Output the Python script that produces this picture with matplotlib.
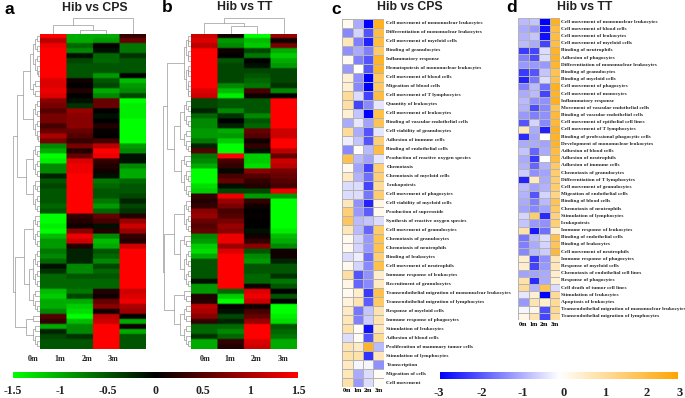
#!/usr/bin/env python
"""Heatmaps of Hib vs CPS / TT: expression clusters (a, b) and leukocyte functions (c, d)."""
import numpy as np
import matplotlib
matplotlib.use("Agg")
import matplotlib.pyplot as plt  # noqa: E402
from matplotlib.colors import LinearSegmentedColormap  # noqa: E402

W, H = 685, 398
SANS = "Liberation Sans"
SERIF = "Liberation Serif"

MONTHS = ["0m", "1m", "2m", "3m"]
EXPR_TICKS = [-1.5, -1, -0.5, 0, 0.5, 1, 1.5]
EXPR_TICK_LABELS = ["-1.5", "-1", "-0.5", "0", "0.5", "1", "1.5"]
Z_TICKS = [-3, -2, -1, 0, 1, 2, 3]

EXPR_A = [
    [1.5, -1.0, -1.0, 0.3], [1.1, -1.0, -0.9, 0.6], [1.4, -0.6, 0.05, -0.7], [1.5, -0.8, -0.1, -0.7],
    [1.5, -0.1, -0.6, -0.3], [1.5, -0.4, -0.6, -0.5], [1.5, -0.5, -0.5, -0.5], [1.5, -0.5, -0.5, -0.5],
    [1.5, -0.5, -0.9, 0.0], [1.3, 0.1, -0.5, -1.1], [1.3, 0.0, -0.4, -0.9], [1.4, 0.2, -1.0, -0.8],
    [1.3, 0.0, -0.8, -0.4], [0.8, -0.1, 0.6, -1.5], [0.7, -0.3, 0.6, -1.4], [0.5, 0.9, 0.0, -1.4],
    [0.7, 0.8, -0.1, -1.4], [0.7, 0.8, 0.0, -1.5], [0.4, 0.8, 0.2, -1.5], [0.6, 0.6, 0.05, -1.5],
    [1.0, 0.5, 0.0, -1.5], [0.7, 0.3, 0.4, -1.5], [-0.8, 0.7, 1.1, -0.9], [-1.0, 0.2, 1.5, -0.8],
    [-1.5, 0.6, 1.4, -0.1], [-1.4, 1.3, 0.3, -0.1], [-0.8, 1.4, 0.2, -0.8], [-0.8, 1.4, 0.1, -1.0],
    [-0.2, 1.5, -0.1, -1.0], [-0.5, 1.5, -0.7, -0.6], [-0.4, 1.5, -0.6, -0.5], [-0.5, 1.5, -0.5, -0.5],
    [-0.5, 1.5, -0.5, -0.4], [-0.5, 1.5, -0.7, -0.2], [-0.6, 1.5, -0.9, -0.4], [-0.5, 1.5, -0.6, -0.3],
    [-1.5, 0.3, 0.6, 0.2], [-1.5, 0.2, 0.4, 0.9], [-1.4, 0.1, -0.1, 1.2], [-1.5, 0.8, 0.2, 0.9],
    [-1.1, 1.4, -0.8, 0.3], [-0.9, 1.2, -1.1, 0.2], [-0.9, 0.2, -1.0, 1.2], [-0.7, -0.2, -0.5, 1.5],
    [-0.8, -0.2, -0.6, 1.5], [-0.6, -0.2, -0.8, 1.5], [-0.1, -0.8, -0.4, 1.5], [-0.3, -0.8, -0.6, 1.5],
    [-0.6, -0.5, -0.5, 1.5], [-0.6, -0.6, -0.6, 1.5], [-0.6, -0.6, -0.6, 1.5], [-1.1, -0.7, 0.2, 1.2],
    [-1.2, -0.4, 0.1, 1.3], [-1.0, -1.0, 0.6, 1.4], [-1.0, -1.2, 0.8, 1.0], [-0.8, -1.3, 0.1, 0.9],
    [0.5, -1.5, 1.1, 0.0], [0.3, -1.1, 1.2, -1.0], [-1.0, -0.8, 1.5, 0.1], [-0.2, -0.8, 1.5, -1.0],
    [-0.4, -0.3, 1.5, -0.5], [-0.5, -0.5, 1.5, -0.5], [-0.5, -0.5, 1.5, -0.5],
]
EXPR_B = [
    [1.2, 0.1, -1.5, 0.9], [1.3, -0.9, -1.1, 0.1], [1.1, -0.8, -1.2, 0.7], [1.5, 0.1, -0.4, -1.0],
    [1.5, 0.0, -0.7, -1.2], [1.5, -0.5, 0.0, -1.0], [1.5, -0.4, -0.1, -0.9], [1.5, -0.4, -0.4, -0.4],
    [1.5, -0.4, -0.5, -0.4], [1.5, -0.4, -0.6, -0.4], [1.5, -0.8, -0.7, -0.3], [1.3, -1.1, 0.4, -0.8],
    [1.2, -1.4, 0.1, 0.0], [-0.4, -0.5, -0.5, 1.5], [-0.4, -0.5, -0.5, 1.5], [-0.2, -0.8, -0.5, 1.5],
    [-0.6, -0.3, -0.8, 1.5], [-0.8, 0.0, -0.5, 1.5], [-0.8, -0.2, -0.6, 1.5], [-0.9, -1.0, 0.6, 1.2],
    [-0.9, -0.9, 0.5, 1.2], [-0.7, -1.2, 0.1, 1.5], [-0.2, -1.5, 0.3, 1.5], [0.5, -1.5, -0.1, 1.1],
    [-0.7, 1.5, -1.2, 0.6], [-0.8, 0.4, -1.2, 1.2], [-1.0, 0.3, -1.3, 1.1], [-1.5, -0.05, 0.8, 0.7],
    [-1.5, 0.4, 0.5, 0.6], [-1.5, 0.6, 0.3, 0.5], [-1.3, -0.1, 0.2, 0.4], [-1.2, -0.4, -0.4, 1.4],
    [0.3, 1.4, -0.9, -0.9], [0.2, 0.9, 0.3, -1.5], [0.3, 0.7, 0.1, -1.5], [0.8, 0.4, 0.0, -1.5],
    [0.9, 0.5, 0.05, -1.5], [0.6, 0.7, 0.0, -1.5], [0.5, 0.9, 0.0, -1.5], [0.6, 0.8, -0.1, -1.4],
    [-0.8, 1.4, 0.1, -1.1], [-0.9, 1.4, 0.3, -1.0], [-1.2, 0.9, 0.8, -0.8], [-1.3, 1.3, -0.5, 0.1],
    [-1.0, 1.5, -0.8, 0.1], [-0.5, 1.5, -0.9, -0.2], [-0.5, 1.5, -0.5, -0.5], [-0.5, 1.5, -0.5, -0.5],
    [-0.5, 1.5, -0.6, -0.3], [-0.1, 1.5, -0.6, -0.7], [-0.9, 1.5, 0.1, -0.5], [-0.9, -0.6, 1.3, 0.0],
    [0.2, -1.2, 1.4, -0.5], [0.2, -1.5, 1.2, 0.0], [1.1, 0.05, 0.1, -1.5], [1.0, -0.1, 0.4, -1.5],
    [0.8, -0.4, 0.6, -1.4], [0.3, -0.2, 0.9, -1.3], [-0.6, -0.6, 1.5, -0.5], [-0.6, -0.8, 1.5, -0.6],
    [-0.3, -0.6, 1.5, -0.7], [-1.0, 0.3, 1.3, -1.0], [-1.0, 0.2, 1.2, -1.0],
]

# trees: (height, left, right), an int leaf stands for that many rows
ROW_TREE_A = (1.0,
              (0.82,
               (0.62, (0.38, 9, 4), 9),
               (0.5, 7, 7)),
              (0.9,
               (0.6, 7, (0.4, 8, 5)),
               (0.5, 2, 5)))
ROW_TREE_B = (1.0,
              (0.86,
               13,
               (0.6, (0.4, 6, 5), (0.35, 3, 6))),
              (0.95,
               (0.62, 7, (0.4, 3, 8)),
               (0.6, 3, (0.4, 4, 5))))
COL_TREE_A = (1.0, (0.55, 1, (0.22, 1, 1)), 1)
COL_TREE_B = (1.0, (0.71, 1, (0.49, 1, 1)), 1)

TERMS_C = [
    "Cell movement of mononuclear leukocytes", "Differentiation of mononuclear leukocytes",
    "Cell movement of myeloid cells", "Binding of granulocytes", "Inflammatory response",
    "Hematopoiesis of mononuclear leukocytes", "Cell movement of blood cells", "Migration of blood cells",
    "Cell movement of T lymphocytes", "Quantity of leukocytes", "Cell movement of leukocytes",
    "Binding of vascular endothelial cells", "Cell viability of granulocytes", "Adhesion of immune cells",
    "Binding of endothelial cells", "Production of reactive oxygen species", "Chemotaxis",
    "Chemotaxis of myeloid cells", "Leukopoiesis", "Cell movement of phagocytes",
    "Cell viability of myeloid cells", "Production of superoxide", "Synthesis of reactive oxygen species",
    "Cell movement of granulocytes", "Chemotaxis of granulocytes", "Chemotaxis of neutrophils",
    "Binding of leukocytes", "Cell movement of neutrophils", "Immune response of leukocytes",
    "Recruitment of granulocytes", "Transendothelial migration of mononuclear leukocytes",
    "Transendothelial migration of lymphocytes", "Response of myeloid cells", "Immune response of phagocytes",
    "Stimulation of leukocytes", "Adhesion of blood cells", "Proliferation of mammary tumor cells",
    "Stimulation of lymphocytes", "Transcription", "Migration of cells", "Cell movement",
]
ZSCORE_C = [
    [0.2, -1.0, -3.0, 2.6], [-1.4, -0.5, -2.0, 2.2], [0.8, -1.5, -2.6, 2.2], [-1.3, -1.0, -1.5, 1.8],
    [0.2, -1.5, -2.0, 2.5], [-1.2, 0.0, -2.0, 2.4], [0.5, -1.3, -3.0, 1.8], [0.5, -1.4, -3.0, 1.8],
    [1.2, -0.4, -2.2, 2.2], [1.1, -2.2, -1.4, -0.3], [0.5, -0.7, -3.0, 2.1], [-1.0, -0.3, -1.1, 2.0],
    [1.2, -1.0, -2.0, -0.3], [-0.2, -0.7, -2.0, 1.6], [-1.4, 0.1, -0.8, 2.2], [2.1, -0.8, -1.1, -0.3],
    [0.2, -1.1, -2.2, 1.6], [0.7, -0.9, -1.7, 1.6], [-0.4, -0.4, -2.2, 1.2], [-0.4, -0.4, -1.6, 1.7],
    [0.8, -1.3, -2.6, 0.3], [1.6, -1.2, -1.9, 0.2], [1.9, -0.8, -0.7, -0.4], [0.8, -0.8, -1.8, 1.7],
    [0.2, -0.5, -1.2, 2.0], [0.2, -0.5, -1.2, 2.0], [-0.4, -0.2, -1.7, 1.6], [0.2, -0.5, -1.4, 2.1],
    [1.1, -2.0, -1.3, 0.6], [0.3, -1.8, -1.4, 0.7], [0.2, 0.6, -2.3, 2.1], [0.4, 0.9, -1.9, 1.8],
    [0.7, -1.6, -0.7, 0.9], [0.8, -1.5, -0.6, 0.9], [1.0, 0.1, -2.8, 0.8], [-0.4, 0.1, -2.0, 1.2],
    [0.9, 0.7, 2.5, -0.8], [1.0, 1.0, -2.4, 0.8], [0.7, -0.1, -0.1, -1.3], [0.8, -1.0, -0.4, 0.1],
    [1.0, -1.2, -0.4, 0.1],
]
TERMS_D = [
    "Cell movement of mononuclear leukocytes", "Cell movement of blood cells", "Cell movement of leukocytes",
    "Cell movement of myeloid cells", "Binding of neutrophils", "Adhesion of phagocytes",
    "Differentiation of mononuclear leukocytes", "Binding of granulocytes", "Binding of myeloid cells",
    "Cell movement of phagocytes", "Cell movement of monocytes", "Inflammatory response",
    "Movement of vascular endothelial cells", "Binding of vascular endothelial cells",
    "Cell movement of epithelial cell lines", "Cell movement of T lymphocytes",
    "Binding of professional phagocytic cells", "Development of mononuclear leukocytes",
    "Adhesion of blood cells", "Adhesion of neutrophils", "Adhesion of immune cells",
    "Chemotaxis of granulocytes", "Differentiation of T lymphocytes", "Cell movement of granulocytes",
    "Migration of endothelial cells", "Binding of blood cells", "Chemotaxis of neutrophils",
    "Stimulation of lymphocytes", "Leukopoiesis", "Immune response of leukocytes",
    "Binding of endothelial cells", "Binding of leukocytes", "Cell movement of neutrophils",
    "Immune response of phagocytes", "Response of myeloid cells", "Chemotaxis of endothelial cell lines",
    "Response of phagocytes", "Cell death of tumor cell lines", "Stimulation of leukocytes",
    "Apoptosis of leukocytes", "Transendothelial migration of mononuclear leukocytes",
    "Transendothelial migration of lymphocytes",
]
ZSCORE_D = [
    [-0.8, -0.7, -3.0, 2.6], [-1.0, -1.2, -2.8, 2.2], [-0.9, -0.7, -2.8, 2.2], [-0.8, -1.0, -2.2, 2.2],
    [-2.3, -2.2, -0.4, 2.5], [-1.5, -2.1, -0.4, 2.6], [-1.2, -1.2, -1.2, 2.4], [-2.3, -2.0, -0.7, 2.0],
    [-2.6, -1.6, -0.4, 2.1], [-1.5, -0.8, -1.7, 2.6], [-1.0, -0.8, -2.2, 2.5], [-0.8, -1.3, -1.3, 2.6],
    [-0.9, -2.1, -1.4, 2.0], [-1.2, -1.5, -1.3, 2.3], [-2.0, -0.5, -1.4, 2.3], [0.8, -1.0, -2.6, 2.6],
    [-2.5, -1.1, 0.0, 2.5], [-1.0, -1.0, -1.1, 2.5], [-0.7, -1.8, -1.0, 2.2], [-1.0, -2.3, 0.0, 2.2],
    [-0.9, -1.8, -0.9, 1.8], [-0.6, -1.3, -1.1, 1.7], [-2.6, 0.7, -1.0, 1.7], [-0.8, -1.1, -0.9, 1.7],
    [-0.9, -2.0, -0.5, 1.4], [-1.0, -1.5, -0.8, 2.0], [-1.1, -1.4, -1.1, 1.8], [-0.5, 1.7, -2.5, 1.5],
    [-0.7, -1.2, -1.3, 1.6], [1.0, -2.7, -1.7, 0.5], [-1.6, -0.8, -0.4, 2.1], [-1.5, -1.0, -0.5, 1.9],
    [-1.4, -0.8, -0.6, 2.3], [0.6, -2.3, -1.3, 0.8], [0.6, -2.2, -1.2, 0.8], [-1.1, -1.1, -1.0, 0.6],
    [1.0, -2.5, -1.0, 0.5], [1.2, -0.9, 2.0, -0.4], [-0.3, 0.5, -3.0, 1.2], [-1.2, 0.9, 0.6, 1.2],
    [-0.1, 0.3, -2.1, 1.3], [0.3, 0.9, -2.2, 1.1],
]

GREEN_RED = LinearSegmentedColormap.from_list("gr", ["#00ff00", "#000000", "#ff0000"])
BLUE_ORANGE = LinearSegmentedColormap.from_list("bo", ["#0000ff", "#ffffff", "#ffa500"])
DENDRO_COLOR = "#999999"


def px_ax(fig, x0, y0, x1, y1):
    ax = fig.add_axes([x0 / W, 1 - y1 / H, (x1 - x0) / W, (y1 - y0) / H])
    ax.axis("off")
    return ax


def label(fig, x, y, s, **kw):
    kw.setdefault("ha", "center")
    kw.setdefault("va", "center")
    fig.text(x / W, 1 - y / H, s, **kw)


def bracket(ax, p0, h0, p1, h1, h, horizontal):
    xs, ys = [h0, h, h, h1], [p0, p0, p1, p1]
    if not horizontal:
        xs, ys = ys, xs
    ax.plot(xs, ys, color=DENDRO_COLOR, lw=0.5, solid_joinstyle="miter")


def fan(ax, start, n, h, horizontal):
    # a leaf cluster, halved down to single rows
    if n == 1:
        return start + 0.5, 0.0
    k = n // 2
    p0, h0 = fan(ax, start, k, h * 0.72, horizontal)
    p1, h1 = fan(ax, start + k, n - k, h * 0.72, horizontal)
    bracket(ax, p0, h0, p1, h1, h, horizontal)
    return (p0 + p1) / 2, h


def tree(ax, node, start, horizontal, leaf_h):
    if isinstance(node, int):
        p, h = fan(ax, start, node, leaf_h, horizontal)
        return p, h, start + node
    height, left, right = node
    p0, h0, nxt = tree(ax, left, start, horizontal, leaf_h)
    p1, h1, nxt = tree(ax, right, nxt, horizontal, leaf_h)
    bracket(ax, p0, h0, p1, h1, height, horizontal)
    return (p0 + p1) / 2, height, nxt


def expr_panel(fig, box, values, row_tree, col_tree, dendro_x, top_y):
    x0, y0, x1, y1 = box
    m = np.array(values)
    ax = px_ax(fig, x0, y0, x1, y1)
    # soft row transitions, hard column edges, like the scanned figure
    soft = np.repeat(np.repeat(m, 3, axis=0), 40, axis=1)
    ax.imshow(soft, cmap=GREEN_RED, vmin=-1.5, vmax=1.5, aspect="auto", interpolation="bilinear",
              extent=[0, 4, len(m), 0])

    rd = px_ax(fig, dendro_x, y0, x0, y1)
    tree(rd, row_tree, 0, True, 0.24)
    rd.set_xlim(1.0, 0); rd.set_ylim(len(m), 0)

    cd = px_ax(fig, x0, top_y, x1, y0)
    tree(cd, col_tree, 0, False, 0.2)
    cd.set_xlim(0, 4); cd.set_ylim(0, 1.02)


def term_panel(fig, box, values, terms, text_x, month_y):
    x0, y0, x1, y1 = box
    m = np.array(values)
    ax = px_ax(fig, x0, y0, x1, y1)
    ax.pcolormesh(m, cmap=BLUE_ORANGE, vmin=-3, vmax=3, edgecolors="#b4b4b4", linewidth=0.4)
    ax.set_ylim(len(m), 0)
    row_h = (y1 - y0) / len(m)
    for i, t in enumerate(terms):
        label(fig, text_x, y0 + (i + 0.5) * row_h, t, ha="left", family=SERIF, weight="bold",
              fontsize=3.8, color="#222222")
    col_w = (x1 - x0) / 4
    for j, s in enumerate(MONTHS):
        label(fig, x0 + (j + 0.5) * col_w, month_y, s, family=SERIF, weight="bold", fontsize=4.4)


def gradient_bar(fig, box, cmap, lo, hi):
    ax = px_ax(fig, *box)
    ax.imshow(np.linspace(lo, hi, 256)[None, :], cmap=cmap, vmin=lo, vmax=hi, aspect="auto",
              extent=[lo, hi, 0, 1])


def main():
    fig = plt.figure(figsize=(W / 100, H / 100), dpi=100)

    expr_panel(fig, (40, 33.5, 146, 349), EXPR_A, ROW_TREE_A, COL_TREE_A, 12.5, 18)
    expr_panel(fig, (191, 33.5, 297, 349), EXPR_B, ROW_TREE_B, COL_TREE_B, 163, 18)
    term_panel(fig, (342, 19, 384, 387), ZSCORE_C, TERMS_C, 386.5, 391)
    term_panel(fig, (518, 18, 560, 320), ZSCORE_D, TERMS_D, 561, 324)

    for x, y, s in [(9, 9, "a"), (167, 8, "b"), (336, 9, "c"), (512, 8, "d")]:
        label(fig, x, y, s, family=SANS, weight="bold", fontsize=12.5)
    for x, y, s in [(95, 8, "Hib vs CPS"), (245, 7, "Hib vs TT"), (410, 7.5, "Hib vs CPS"), (585, 7.5, "Hib vs TT")]:
        label(fig, x, y, s, family=SANS, weight="bold", fontsize=8.8, color="#222222")

    # panel a labels sit left of their columns in the original
    for x, s in zip([33, 60, 87, 113], MONTHS):
        label(fig, x, 359, s, family=SERIF, weight="bold", fontsize=5.8, color="#222222")
    for x, s in zip([205, 230, 256, 283], MONTHS):
        label(fig, x, 359, s, family=SERIF, weight="bold", fontsize=5.8, color="#222222")

    gradient_bar(fig, (13, 372, 298, 378), GREEN_RED, -1.5, 1.5)
    gradient_bar(fig, (440, 372, 678, 379), BLUE_ORANGE, -3, 3)
    for v, s in zip(EXPR_TICKS, EXPR_TICK_LABELS):
        label(fig, 155.5 + v * 95, 391, s, family=SERIF, weight="bold", fontsize=8.5, color="#222222")
    for v, x in zip(Z_TICKS, [439, 482, 523, 564, 605, 647, 680]):
        label(fig, x, 393, str(v), family=SERIF, weight="bold", fontsize=9, color="#222222")

    fig.savefig("out.png", dpi=100)


if __name__ == "__main__":
    main()
